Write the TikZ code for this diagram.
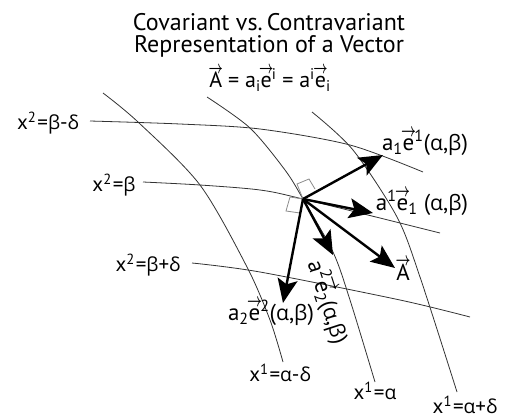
\documentclass[tikz,border=0pt]{standalone}
\usepackage{fontspec}
\setmainfont{PT Sans}
\newfontfamily\gr{Open Sans}[Scale=0.92]
\usetikzlibrary{arrows.meta}
\usepackage{amsmath}
\newcommand{\ve}[1]{\leavevmode\hbox{\ooalign{#1\cr\hidewidth\raisebox{0.62em}{\resizebox{0.65em}{0.32em}{$\boldsymbol{\rightarrow}$}}\hidewidth\cr}}}
\newcommand{\sps}[1]{\textsuperscript{#1}}
\newcommand{\sbs}[1]{\textsubscript{#1}}
\newcommand{\al}{{\gr α}}
\newcommand{\be}{{\gr β}}
\newcommand{\de}{{\gr δ}}
\tikzset{
  grid/.style={draw=black!80, line width=0.8pt},
  vec/.style={line width=2.4pt, -{Stealth[length=24pt,width=20pt,inset=5pt]}},
  sq/.style={draw=black!45, line width=0.8pt},
  lab/.style={font=\fontsize{21}{23}\selectfont, inner sep=0pt},
  vlab/.style={font=\fontsize{23}{25}\selectfont, inner sep=0pt},
  ttl/.style={font=\fontsize{24}{26}\selectfont, inner sep=0pt},
}
\begin{document}
\begin{tikzpicture}[x=1pt,y=-1pt]
\useasboundingbox (0,0) rectangle (507,420);
% titles
\node[ttl] (t1) at (269,22) {Covariant vs.\,Contravariant};
\node[ttl] (t2) at (269,46) {Representation of a Vector};
\node[ttl, font=\fontsize{22}{24}\selectfont] (t3) at (270,80) {\ve{A} = a\sbs{i}\ve{e}\sps{i} = a\sps{i}\ve{e}\sbs{i}};
% x1 curves
\draw[grid] plot[smooth] coordinates {(103,93) (138,122) (200,185) (247,267) (270,320) (283,362)};
\draw[grid] plot[smooth] coordinates {(207,97) (250,128) (285,170) (303,199) (333,252) (350,300) (375,382)};
\draw[grid] plot[smooth] coordinates {(312,112) (353,150) (397,217) (420,277) (457,392)};
% x2 curves
\draw[grid] plot[smooth] coordinates {(90,121) (180,124) (260,129) (350,145) (423,172)};
\draw[grid] plot[smooth] coordinates {(143,182) (200,185) (260,190) (303,199) (440,233)};
\draw[grid] plot[smooth] coordinates {(192,263) (260,272) (400,300) (470,317)};
% labels of curves
\node[lab] (l1) at (48,123) {x\sps{2}\kern1pt=\be-\de};
\node[lab] (l2) at (114,185) {x\sps{2}\kern1pt=\be};
\node[lab] (l3) at (148,265) {x\sps{2}\kern1pt=\be+\de};
\node[lab] (l4) at (280,373) {x\sps{1}\kern1pt=\al-\de};
\node[lab] (l5) at (375,391) {x\sps{1}\kern1pt=\al};
\node[lab] (l6) at (465,405) {x\sps{1}\kern1pt=\al+\de};
% right angle squares
\coordinate (O) at (303,199);
\draw[sq] (O) -- (297,184) -- (309,179) -- (315,189);
\draw[sq] (O) -- (290,197) -- (286,211) -- (300,213);
% vectors
\coordinate (p1) at (383,155);
\coordinate (p2) at (373,213);
\coordinate (p3) at (395,268);
\coordinate (p4) at (333,255);
\coordinate (p5) at (283,303);
\draw[vec] (O) -- (p1);
\draw[vec] (O) -- (p2);
\draw[vec] (O) -- (p3);
\draw[vec] (O) -- (p4);
\draw[vec] (O) -- (p5);
% vector labels
\node[vlab] (v1) at (425,143) {a\sbs{1}\ve{e}\sps{1}(\al,\be)};
\node[vlab] (v2) at (422,203) {a\sps{1}\ve{e}\sbs{1} (\al,\be)};
\node[vlab] (v3) at (403,272) {\ve{A}};
\node[vlab] (v4) at (271,313) {a\sbs{2}\ve{e}\sps{2}(\al,\be)};
\node[vlab, rotate=-72] (v5) at (328,302) {a\sps{2}\ve{e}\sbs{2}(\al,\be)};
\end{tikzpicture}
\end{document}
